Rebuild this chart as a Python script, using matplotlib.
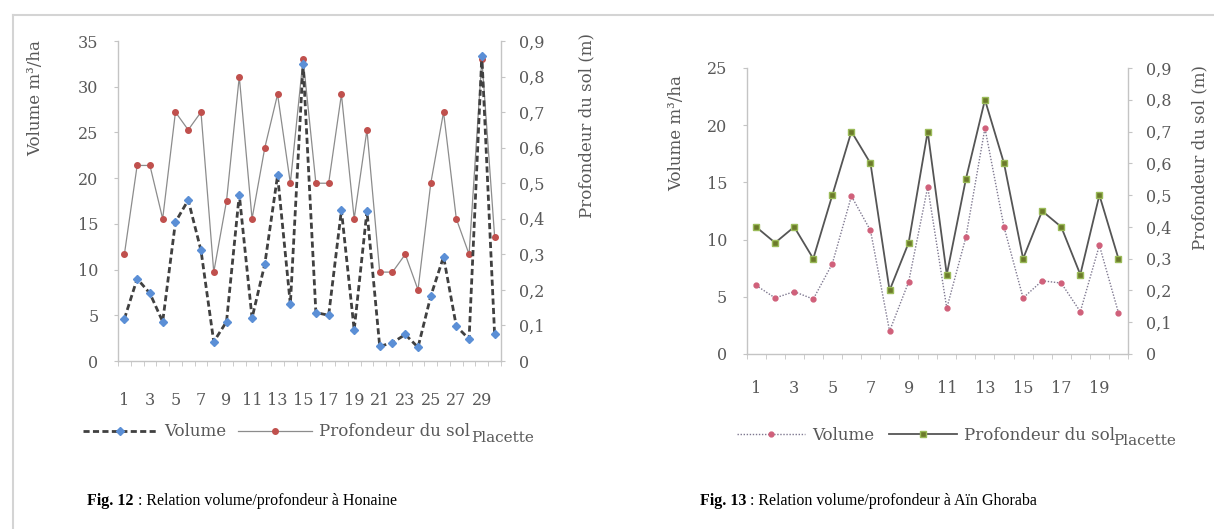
import numpy as np
import matplotlib
matplotlib.use("Agg")
import matplotlib.pyplot as plt
from matplotlib.lines import Line2D
from matplotlib.ticker import FuncFormatter

# Fig. 12 - Honaine (30 placettes)
honaine_placette = list(range(1, 31))
honaine_volume = [4.6, 9.0, 7.4, 4.3, 15.2, 17.6, 12.1, 2.1, 4.3, 18.2,
                  4.7, 10.6, 20.3, 6.2, 32.5, 5.3, 5.0, 16.5, 3.4, 16.4,
                  1.6, 2.0, 2.9, 1.5, 7.1, 11.4, 3.8, 2.4, 33.4, 2.9]
honaine_profondeur = [0.30, 0.55, 0.55, 0.40, 0.70, 0.65, 0.70, 0.25, 0.45, 0.80,
                      0.40, 0.60, 0.75, 0.50, 0.85, 0.50, 0.50, 0.75, 0.40, 0.65,
                      0.25, 0.25, 0.30, 0.20, 0.50, 0.70, 0.40, 0.30, 0.85, 0.35]

# Fig. 13 - Ain Ghoraba (20 placettes)
ghoraba_placette = list(range(1, 21))
ghoraba_volume = [6.0, 4.9, 5.45, 4.8, 7.9, 13.8, 10.8, 2.0, 6.3, 14.6,
                  4.0, 10.2, 19.75, 11.1, 4.9, 6.4, 6.2, 3.7, 9.5, 3.6]
ghoraba_profondeur = [0.40, 0.35, 0.40, 0.30, 0.50, 0.70, 0.60, 0.20, 0.35, 0.70,
                      0.25, 0.55, 0.80, 0.60, 0.30, 0.45, 0.40, 0.25, 0.50, 0.30]

W, H = 1214, 529
FONT = "DejaVu Serif"
TXT = "#595959"
AXC = "#c4c4c4"

fig = plt.figure(figsize=(W / 100, H / 100), dpi=100)
fig.patch.set_facecolor("white")


def px(x, y):
    return x / W, 1 - y / H


def comma(v, pos):
    if abs(v) < 1e-9:
        return "0"
    return f"{v:.1f}".replace(".", ",")


def style_axes(ax, ax2, n, vmax, vstep, xpad):
    for a in (ax, ax2):
        a.spines["top"].set_visible(False)
        for s in ("left", "right", "bottom"):
            a.spines[s].set_color(AXC)
            a.spines[s].set_linewidth(1.0)
    ax.spines["right"].set_visible(False)
    ax2.spines["left"].set_visible(False)
    ax2.spines["bottom"].set_visible(False)
    ax.set_xlim(0.5, n + 0.5)
    ax.set_ylim(0, vmax)
    ax.set_yticks(np.arange(0, vmax + 0.1, vstep))
    ax2.set_ylim(0, 0.9)
    ax2.set_yticks(np.arange(0, 0.91, 0.1))
    ax2.yaxis.set_major_formatter(FuncFormatter(comma))
    ax.set_xticks(range(1, n + 1, 2))
    ax.set_xticks(np.arange(0.5, n + 1, 1), minor=True)
    ax.tick_params(axis="x", which="major", length=0, pad=xpad,
                   labelsize=11.5, labelcolor=TXT)
    ax.tick_params(axis="x", which="minor", length=3.5, color=AXC)
    ax.tick_params(axis="y", length=3, color=AXC, labelsize=11.5,
                   labelcolor=TXT, pad=11)
    ax2.tick_params(axis="y", length=3, color=AXC, labelsize=11.5,
                    labelcolor=TXT, pad=10)
    for lab in ax.get_xticklabels() + ax.get_yticklabels() + ax2.get_yticklabels():
        lab.set_fontfamily(FONT)


def caption(x, y, num, rest):
    # bold figure number, rest of the caption placed right after it
    t1 = fig.text(*px(x, y), num, ha="left", va="baseline", fontsize=11.5,
                  weight="bold", family="Liberation Serif")
    fig.add_artist(matplotlib.text.Annotation(
        rest, xy=(1, 0), xycoords=t1, ha="left", va="bottom",
        fontsize=11.5, family="Liberation Serif", annotation_clip=False))


# ---- left chart (Honaine)
ax = fig.add_axes([118 / W, 1 - 361 / H, 383 / W, 320 / H])
ax2 = ax.twinx()
ax.set_zorder(ax2.get_zorder() + 1)
ax.patch.set_visible(False)
style_axes(ax, ax2, len(honaine_placette), 35, 5, 22)

ax2.plot(honaine_placette, honaine_profondeur, color="#8c8c8c", lw=0.9,
         marker="o", ms=4, mfc="#c0504d", mec="#c0504d")
ax.plot(honaine_placette, honaine_volume, color="#404040", lw=2.0,
        linestyle=(0, (2.2, 1.2)), marker="D", ms=4, mfc="#5b8fd6", mec="#5b8fd6")

fig.text(*px(36, 98), "Volume m³/ha", rotation=90, ha="center", va="center",
         fontsize=12, color=TXT, family=FONT)
fig.text(*px(587, 126), "Profondeur du sol (m)", rotation=90, ha="center",
         va="center", fontsize=12, color=TXT, family=FONT)

h1 = [Line2D([], [], color="#404040", lw=2.0, linestyle=(0, (2.2, 1.2)),
             marker="D", ms=4, mfc="#5b8fd6", mec="#5b8fd6"),
      Line2D([], [], color="#8c8c8c", lw=0.9, marker="o", ms=4,
             mfc="#c0504d", mec="#c0504d")]
leg = fig.legend(h1, ["Volume", "Profondeur du sol"], loc="center left",
                 bbox_to_anchor=px(83, 432), ncol=2, frameon=False,
                 handlelength=4.4, handletextpad=0.45, columnspacing=0.75,
                 borderpad=0, borderaxespad=0, numpoints=1,
                 prop={"family": FONT, "size": 12})
for t in leg.get_texts():
    t.set_color(TXT)
fig.text(*px(471, 438), "Placette", ha="left", va="center", fontsize=11,
         color=TXT, family=FONT)

# ---- right chart (Ain Ghoraba)
bx = fig.add_axes([746.5 / W, 1 - 354 / H, 381.5 / W, 286 / H])
bx2 = bx.twinx()
bx.set_zorder(bx2.get_zorder() + 1)
bx.patch.set_visible(False)
style_axes(bx, bx2, len(ghoraba_placette), 25, 5, 19)

bx2.plot(ghoraba_placette, ghoraba_profondeur, color="#555555", lw=1.3,
         marker="s", ms=4, mfc="#6b7a2a", mec="#9bbb59")
bx.plot(ghoraba_placette, ghoraba_volume, color="#7f7890", lw=1.0,
        linestyle=(0, (1, 1.2)), marker="o", ms=3.5, mfc="#d0607a", mec="#d0607a")

fig.text(*px(677, 133), "Volume m³/ha", rotation=90, ha="center", va="center",
         fontsize=12, color=TXT, family=FONT)
fig.text(*px(1200, 157), "Profondeur du sol (m)", rotation=90, ha="center",
         va="center", fontsize=12, color=TXT, family=FONT)

h2 = [Line2D([], [], color="#7f7890", lw=1.0, linestyle=(0, (1, 1.2)),
             marker="o", ms=3.5, mfc="#d0607a", mec="#d0607a"),
      Line2D([], [], color="#555555", lw=1.3, marker="s", ms=4,
             mfc="#6b7a2a", mec="#9bbb59")]
leg2 = fig.legend(h2, ["Volume", "Profondeur du sol"], loc="center left",
                  bbox_to_anchor=px(737, 435), ncol=2, frameon=False,
                  handlelength=4.1, handletextpad=0.4, columnspacing=0.9,
                  borderpad=0, borderaxespad=0, numpoints=1,
                  prop={"family": FONT, "size": 12})
for t in leg2.get_texts():
    t.set_color(TXT)
fig.text(*px(1113, 441), "Placette", ha="left", va="center", fontsize=11,
         color=TXT, family=FONT)

# ---- captions
caption(87, 505, "Fig. 12", " : Relation volume/profondeur à Honaine")
caption(700, 505, "Fig. 13", " : Relation volume/profondeur à Aïn Ghoraba")

# page frame lines
fig.add_artist(Line2D([13 / W, 1], [1 - 15 / H, 1 - 15 / H], color="#d4d4d4", lw=1.5))
fig.add_artist(Line2D([13 / W, 13 / W], [0, 1 - 15 / H], color="#d4d4d4", lw=1.5))

fig.savefig("out.png", dpi=100, facecolor="white")
